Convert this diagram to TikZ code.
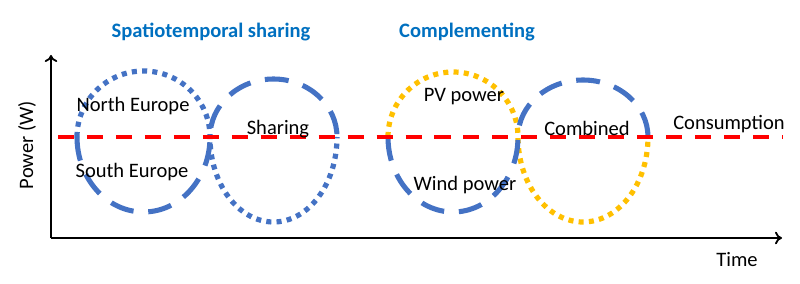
\documentclass[tikz,border=0pt]{standalone}
\usepackage{fontspec}
\setmainfont{Carlito}
\usetikzlibrary{arrows.meta}
\definecolor{titleblue}{HTML}{0070C0}
\definecolor{curveblue}{HTML}{4472C4}
\definecolor{pvyellow}{HTML}{FFC000}
\definecolor{loadred}{HTML}{FF0000}
\begin{document}
\begin{tikzpicture}[
 lbl/.style={font=\fontsize{14.6}{17}\selectfont,inner sep=0pt},
 ttl/.style={inner sep=0pt,font=\fontsize{14.6}{17}\selectfont\bfseries,text=titleblue},
 axis/.style={line width=1.3pt,-{To[length=5pt,width=9pt]}},
 dashcurve/.style={line width=3.6pt,dash pattern=on 17pt off 10.5pt},
 dotcurve/.style={line width=3.7pt,dash pattern=on 3.6pt off 3.7pt}]
 \useasboundingbox(0,0)rectangle(20,7.1);
 \coordinate(o)at(1.275,1.15);
 \coordinate(ytip)at(1.275,5.725);
 \coordinate(xtip)at(19.55,1.15);
 \coordinate(loadstart)at(1.45,3.675);
 \coordinate(loadend)at(19.575,3.675);
 \coordinate(euro)at(1.925,3.675);
 \coordinate(mix)at(9.7,3.675);
 \draw[axis](o)--(ytip);
 \draw[axis](o)--(xtip);
 \draw[dotcurve,curveblue](euro)arc[start angle=180,end angle=0,x radius=1.6625,y radius=1.65]arc[start angle=180,end angle=360,x radius=1.5875,y radius=2.125];
 \draw[dashcurve,curveblue](euro)arc[start angle=180,end angle=360,x radius=1.6625,y radius=1.875]arc[start angle=180,end angle=0,x radius=1.5875,y radius=1.45];
 \draw[dotcurve,pvyellow](mix)arc[start angle=180,end angle=0,x radius=1.625,y radius=1.625]arc[start angle=180,end angle=360,x radius=1.625,y radius=2.125];
 \draw[dashcurve,curveblue](mix)arc[start angle=180,end angle=360,x radius=1.625,y radius=1.875]arc[start angle=180,end angle=0,x radius=1.625,y radius=1.425];
 \draw[loadred,line width=2.8pt,dash pattern=on 11.4pt off 9.2pt](loadstart)--(loadend);
 \node[ttl](sharetitle)at(5.275,6.3){Spatiotemporal sharing};
 \node[ttl](comptitle)at(11.675,6.3){Complementing};
 \node[lbl,rotate=90](ylabel)at(0.675,3.475){Power (W)};
 \node[lbl](north)at(3.325,4.45){North Europe};
 \node[lbl](south)at(3.3,2.8){South Europe};
 \node[lbl](sharing)at(6.95,3.875){Sharing};
 \node[lbl](pv)at(11.6,4.675){PV power};
 \node[lbl](wind)at(11.625,2.475){Wind power};
 \node[lbl](combined)at(14.675,3.9){Combined};
 \node[lbl](consumption)at(18.225,4.0){Consumption};
 \node[lbl](time)at(18.425,0.6){Time};
\end{tikzpicture}
\end{document}
